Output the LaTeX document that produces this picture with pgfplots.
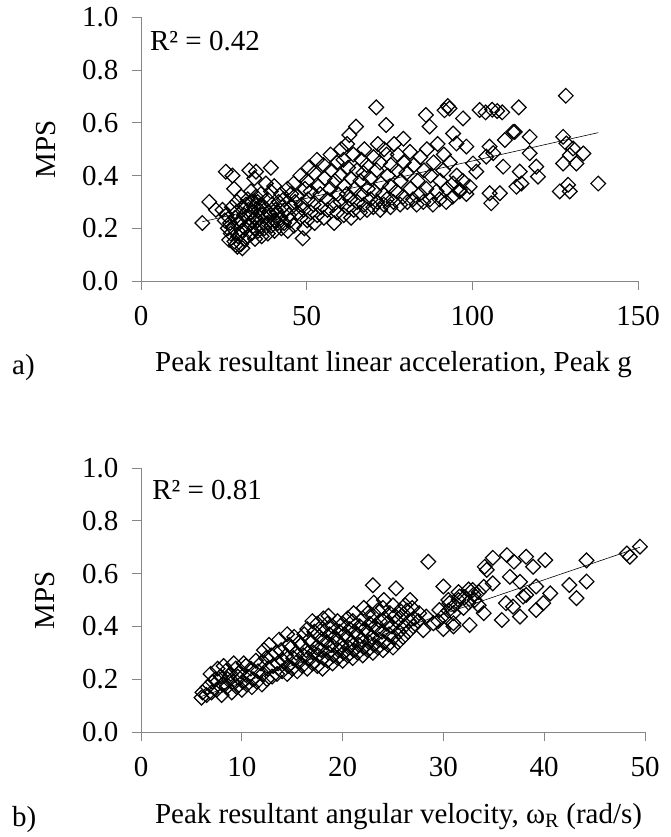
\documentclass[border=0pt]{standalone}
\usepackage{fontspec}
\setmainfont{Liberation Serif}
\usepackage{pgfplots}
\pgfplotsset{compat=1.18}
\definecolor{axgray}{RGB}{134,134,134}
\newcommand\tk{\fontsize{29}{32}\selectfont}
\newcommand\lb{\fontsize{29}{32}\selectfont}
\pgfplotsset{
  mystyle/.style={
    scale only axis,
    axis lines=left,
    axis line style={-, axgray, line width=1pt},
    tick style={axgray, line width=1pt},
    tick align=outside,
    major tick length=9pt,
    ymin=0, ymax=1,
    ytick={0,0.2,0.4,0.6,0.8,1},
    yticklabel style={/pgf/number format/fixed, /pgf/number format/fixed zerofill, /pgf/number format/precision=1, xshift=-10pt},
    xticklabel style={yshift=-13pt},
    tick label style={font=\tk},
    /pgf/number format/assume math mode=true,
    ylabel={MPS},
    ylabel style={font=\lb, at={(axis description cs:-0.191,0.5)}, anchor=center},
    xlabel style={font=\lb, anchor=base},
    clip=false,
  },
  dia/.style={only marks, mark=square, mark size=5.2pt, mark options={rotate=45, line width=1.2pt, black, fill=none}},
}
\begin{document}
\begin{tikzpicture}
\useasboundingbox (0,0) rectangle (670pt,-837pt);
% ---------- a) ----------
\begin{axis}[mystyle,
  at={(141pt,-281pt)}, anchor=south west,
  width=497pt, height=263.5pt,
  xmin=0, xmax=150, xtick={0,50,100,150},
  xlabel={Peak resultant linear acceleration, Peak g},
  xlabel style={at={(axis description cs:0.508,-0.345)}},
]
\addplot[dia] coordinates {
(25.3,0.23)(24.6,0.27)(26.2,0.20)(25.8,0.25)(27.1,0.18)(26.9,0.22)(27.4,0.28)(28.2,0.15)(27.8,0.20)(28.4,0.24)(28.9,0.30)(29.1,0.13)(29.3,0.17)(29.6,0.22)(28.7,0.26)(30.2,0.14)(30.4,0.19)(30.1,0.23)(30.6,0.28)(30.3,0.32)(31.2,0.16)(31.4,0.20)(31.1,0.25)(31.7,0.29)(32.3,0.17)(32.1,0.21)(32.6,0.24)(32.4,0.27)(32.2,0.31)(33.4,0.18)(33.1,0.22)(33.3,0.26)(33.6,0.30)(33.2,0.34)(34.4,0.16)(34.2,0.20)(34.5,0.24)(34.1,0.28)(34.7,0.32)(35.3,0.19)(35.1,0.23)(35.6,0.27)(35.2,0.30)(36.4,0.17)(36.1,0.21)(36.6,0.25)(36.3,0.29)(36.2,0.33)
(37.2,0.20)(37.5,0.24)(37.1,0.28)(38.3,0.18)(38.1,0.22)(38.6,0.26)(38.2,0.31)(39.4,0.21)(39.1,0.25)(39.5,0.29)(39.2,0.34)(40.3,0.19)(40.1,0.23)(40.6,0.27)(40.2,0.36)(41.3,0.22)(41.1,0.26)(41.5,0.30)(42.4,0.20)(42.1,0.24)(42.6,0.28)(42.3,0.33)(43.2,0.22)(43.5,0.27)(43.1,0.31)(44.3,0.19)(44.6,0.25)(44.2,0.35)(45.1,0.23)(45.4,0.28)(45.3,0.33)(46.2,0.21)(46.5,0.30)(46.1,0.37)
(47.3,0.26)(47.1,0.32)(48.2,0.24)(48.4,0.29)(48.1,0.40)(49.3,0.20)(49.1,0.27)(49.5,0.35)(50.2,0.23)(50.4,0.31)(50.1,0.38)(50.6,0.43)(51.3,0.26)(51.2,0.34)(52.4,0.22)(52.1,0.29)(52.3,0.41)(53.2,0.25)(53.5,0.36)(53.1,0.46)(54.3,0.28)(54.1,0.33)(55.2,0.24)(55.4,0.39)(55.1,0.44)(56.3,0.27)(56.2,0.31)(57.1,0.35)(57.4,0.42)(57.2,0.48)(58.3,0.22)(58.1,0.29)(58.5,0.38)(59.2,0.26)(59.4,0.33)(59.1,0.45)(60.3,0.30)(60.1,0.40)(60.4,0.50)
(61.2,0.25)(61.4,0.36)(61.1,0.46)(62.3,0.28)(62.1,0.33)(62.5,0.43)(62.2,0.52)(63.4,0.24)(63.1,0.31)(63.3,0.39)(64.2,0.27)(64.5,0.35)(64.1,0.48)(65.3,0.30)(65.2,0.42)(66.1,0.26)(66.4,0.33)(66.2,0.38)(66.5,0.46)(67.3,0.29)(67.1,0.41)(67.4,0.50)(68.2,0.27)(68.5,0.35)(68.1,0.44)(69.3,0.31)(69.2,0.39)(70.1,0.28)(70.4,0.34)(70.2,0.47)(71.3,0.30)(71.1,0.42)(71.5,0.52)(72.2,0.27)(72.4,0.37)(72.1,0.45)(73.3,0.29)(73.1,0.33)(73.4,0.50)(74.2,0.31)(74.5,0.40)(74.1,0.48)(75.3,0.28)(75.2,0.36)(75.4,0.44)
(76.2,0.30)(76.4,0.52)(77.1,0.34)(77.3,0.42)(77.5,0.48)(78.2,0.29)(78.4,0.38)(79.1,0.32)(79.3,0.45)(79.2,0.54)(80.4,0.30)(80.1,0.41)(81.3,0.35)(81.2,0.49)(82.1,0.31)(82.4,0.44)(83.2,0.29)(83.5,0.38)(84.1,0.33)(84.3,0.47)(85.2,0.30)(85.4,0.42)(86.1,0.35)(86.3,0.50)(87.2,0.31)(87.4,0.40)(88.1,0.29)(88.3,0.45)(89.2,0.34)(89.5,0.52)(90.1,0.31)(90.3,0.38)(91.2,0.42)(91.4,0.48)(92.1,0.30)(92.3,0.35)(93.2,0.45)(94.1,0.32)(95.3,0.40)(96.2,0.34)(97.1,0.38)(98.2,0.33)
(18.5,0.22)(20.6,0.30)(22.6,0.27)(25.6,0.415)(27.6,0.40)(28.1,0.35)(32.7,0.42)(34.2,0.39)(34.7,0.415)(37.7,0.37)(39.2,0.43)(26.6,0.156)(30.6,0.124)(28.6,0.137)(48.8,0.162)
(128.2,0.703)(71.0,0.659)(114.0,0.659)(102.2,0.649)(104,0.64)(106,0.65)(107.5,0.645)(109,0.64)(92.6,0.664)(93.1,0.655)(91.6,0.648)(86,0.63)(97.2,0.617)(64.9,0.586)(62.9,0.554)(74.0,0.592)(87.1,0.586)(112.3,0.566)(117.3,0.547)(127.4,0.547)(128.4,0.522)(130.4,0.503)(133.5,0.484)(131.4,0.446)(127.4,0.446)(129.4,0.478)(138.0,0.370)(126.4,0.34)(128.9,0.365)(129.4,0.34)(105.2,0.333)(108.3,0.333)(105.7,0.295)(113.3,0.358)(114.8,0.37)(114.3,0.415)(119.3,0.434)(119.8,0.396)(117.3,0.485)(112.8,0.566)(101.2,0.415)(104.2,0.472)(106.3,0.485)(109.3,0.434)(109.8,0.535)(105.2,0.51)(94.2,0.56)(95.2,0.522)(98.2,0.51)(100.2,0.446)(99.2,0.358)(96.2,0.346)(94.2,0.37)
};
\addplot[no marks, black, line width=0.6pt] coordinates {(18.5,0.225) (138,0.563)};
\node[anchor=base west, inner sep=0pt, font=\fontsize{29}{32}\selectfont] at (axis description cs:0.018,0.873) {R² = 0.42};
\end{axis}
% ---------- b) ----------
\begin{axis}[mystyle,
  at={(141pt,-732pt)}, anchor=south west,
  width=504pt, height=264pt,
  xmin=0, xmax=50, xtick={0,10,20,30,40,50},
  xlabel={Peak resultant angular velocity, ω\textsubscript{R} (rad/s)},
  xlabel style={at={(axis description cs:0.511,-0.345)}},
]
\addplot[dia] coordinates {
(6.0,0.13)(6.1,0.15)(6.5,0.14)(6.6,0.17)(7.0,0.15)(7.1,0.19)(6.9,0.22)(7.5,0.16)(7.4,0.20)(7.6,0.24)(8.0,0.14)(8.1,0.18)(7.9,0.21)(8.2,0.25)(8.5,0.17)(8.6,0.20)(8.4,0.23)(9.0,0.15)(9.1,0.19)(8.9,0.22)(9.2,0.26)(9.5,0.17)(9.6,0.21)(9.4,0.24)(10.0,0.16)(10.1,0.19)(9.9,0.23)(10.2,0.26)(10.5,0.18)(10.6,0.21)(10.4,0.25)(11.0,0.17)(11.1,0.20)(10.9,0.24)(11.5,0.19)(11.6,0.23)(11.4,0.27)(12.0,0.18)(12.1,0.22)(11.9,0.26)(12.2,0.31)(12.5,0.20)(12.6,0.24)(12.4,0.28)(12.7,0.33)(13.0,0.21)(13.1,0.25)(12.9,0.29)
(13.5,0.22)(13.6,0.26)(13.4,0.30)(13.7,0.35)(14.0,0.23)(14.1,0.27)(13.9,0.31)(14.5,0.22)(14.6,0.25)(14.4,0.29)(14.7,0.33)(14.5,0.37)(15.0,0.24)(15.1,0.28)(14.9,0.32)(15.2,0.36)(15.5,0.23)(15.6,0.27)(15.4,0.30)(15.7,0.34)(16.0,0.25)(16.1,0.29)(15.9,0.33)(16.2,0.37)(16.5,0.24)(16.6,0.28)(16.4,0.31)(16.7,0.35)(16.5,0.39)(17.0,0.26)(17.1,0.30)(16.9,0.34)(17.2,0.38)(17.0,0.42)(17.5,0.25)(17.6,0.29)(17.4,0.32)(17.7,0.36)(17.5,0.41)(18.0,0.24)(18.1,0.28)(17.9,0.31)(18.2,0.35)(18.0,0.39)(18.1,0.43)
(18.5,0.27)(18.6,0.30)(18.4,0.34)(18.7,0.37)(18.5,0.41)(18.6,0.44)(19.0,0.26)(19.1,0.29)(18.9,0.33)(19.2,0.36)(19.0,0.40)(19.5,0.28)(19.6,0.31)(19.4,0.35)(19.7,0.38)(19.5,0.42)(20.0,0.27)(20.1,0.30)(19.9,0.33)(20.2,0.37)(20.0,0.41)(20.5,0.29)(20.6,0.32)(20.4,0.36)(20.7,0.39)(20.5,0.43)(21.0,0.28)(21.1,0.31)(20.9,0.34)(21.2,0.38)(21.0,0.42)(21.1,0.45)(21.5,0.30)(21.6,0.33)(21.4,0.37)(21.7,0.40)
(22.0,0.29)(22.1,0.32)(21.9,0.35)(22.2,0.39)(22.0,0.43)(22.1,0.47)(22.5,0.31)(22.6,0.34)(22.4,0.38)(22.7,0.41)(22.5,0.45)(23.0,0.30)(23.1,0.33)(22.9,0.36)(23.2,0.40)(23.0,0.44)(23.1,0.49)(23.5,0.32)(23.6,0.35)(23.4,0.39)(23.7,0.42)(23.5,0.46)(24.0,0.31)(24.1,0.34)(23.9,0.38)(24.2,0.43)(24.0,0.47)(24.1,0.50)(24.5,0.33)(24.6,0.37)(24.4,0.41)(24.7,0.45)(25.0,0.32)(25.1,0.36)(24.9,0.40)(25.2,0.44)(25.0,0.48)(25.5,0.34)(25.6,0.38)(25.4,0.42)(25.7,0.46)(26.0,0.36)(26.1,0.40)(25.9,0.44)(26.2,0.48)(26.5,0.38)(26.6,0.42)(26.4,0.46)(26.7,0.50)(27.0,0.40)(27.1,0.43)(26.9,0.47)(27.5,0.42)(27.6,0.45)
(29.5,0.42)(30.0,0.44)(30.5,0.46)(31.0,0.45)(31.1,0.48)(31.5,0.50)(32.0,0.47)(32.1,0.51)(32.5,0.49)(33.0,0.52)(33.1,0.50)(30.5,0.50)(31.5,0.53)(32.5,0.54)(33.5,0.53)(31.0,0.40)(30.0,0.39)(34.0,0.55)(33.5,0.48)
(49.5,0.702)(48.5,0.664)(48.2,0.676)(44.2,0.65)(44.2,0.570)(42.5,0.557)(43.2,0.507)(28.5,0.645)(23.0,0.556)(25.3,0.544)
(34.9,0.66)(36.3,0.67)(37.0,0.645)(38.2,0.664)(38.9,0.626)(40.1,0.651)(34.1,0.626)(34.3,0.614)
(36.6,0.588)(37.6,0.569)(39.2,0.551)(40.6,0.525)(37.9,0.513)(39.9,0.488)(39.2,0.462)(37.6,0.437)(35.8,0.424)(34.0,0.450)(32.6,0.405)(34.9,0.563)(36.2,0.488)(36.9,0.475)(38.2,0.519)
(32.9,0.538)(31.6,0.513)(30.6,0.488)(29.6,0.462)(29.0,0.412)(31.0,0.412)(30.0,0.551)(28.0,0.386)(28.3,0.437)
};
\addplot[no marks, black, line width=0.6pt] coordinates {(6,0.135) (49.5,0.70)};
\node[anchor=base west, inner sep=0pt, font=\fontsize{29}{32}\selectfont] at (axis description cs:0.022,0.879) {R² = 0.81};
\end{axis}
\node[anchor=base west, inner sep=0pt, font=\lb] at (12pt,-374pt) {a)};
\node[anchor=base west, inner sep=0pt, font=\lb] at (12pt,-826pt) {b)};
\end{tikzpicture}
\end{document}
